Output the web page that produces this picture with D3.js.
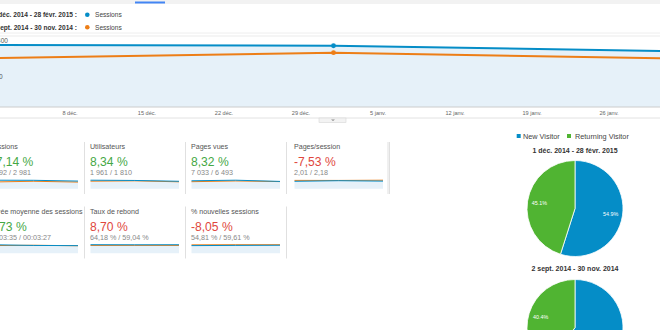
<!DOCTYPE html>
<html><head><meta charset="utf-8">
<script src="https://cdn.jsdelivr.net/npm/d3@7"></script>
<style>
body{margin:0;background:#fff;}
svg{display:block;font-family:Arial,"Liberation Sans",sans-serif;}
</style>
</head><body>
<svg id="c" width="660" height="330"></svg>
<script>
// ---------- data ----------
const dates = ["2014-12-01", "2015-01-01", "2015-02-01"];
const sessionsCurrent = [1225, 1208, 1100];
const sessionsPrevious = [964, 1071, 955];
const yTicks = [700, 1400];
const yTickLabels = ["700", "1 400"];
const legendLabels = ["1 déc. 2014 - 28 févr. 2015 :", "2 sept. 2014 - 30 nov. 2014 :"];
const seriesName = "Sessions";
const xTickDates = ["2014-12-08", "2014-12-15", "2014-12-22", "2014-12-29", "2015-01-05", "2015-01-12", "2015-01-19", "2015-01-26"];
const frMonths = ["janv.", "févr.", "mars", "avr.", "mai", "juin", "juil.", "août", "sept.", "oct.", "nov.", "déc."];

const metricTitles = ["Sessions", "Utilisateurs", "Pages vues", "Pages/session", "Durée moyenne des sessions", "Taux de rebond", "% nouvelles sessions"];
const metricChanges = ["17,14 %", "8,34 %", "8,32 %", "-7,53 %", "3,73 %", "8,70 %", "-8,05 %"];
const metricPositive = [true, true, true, false, true, false, false];
const metricCompare = ["3 492 / 2 981", "1 961 / 1 810", "7 033 / 6 493", "2,01 / 2,18", "00:03:35 / 00:03:27", "64,18 % / 59,04 %", "54,81 % / 59,61 %"];
const sparkCurrent = [
  [1225, 1208, 1100], [690, 668, 603], [2350, 2520, 2163], [1.92, 2.08, 1.97],
  [230, 210, 205], [64.5, 63.8, 64.2], [53.5, 55.0, 56.0]
];
const sparkPrevious = [
  [964, 1071, 955], [610, 640, 560], [2080, 2300, 2113], [2.16, 2.15, 2.21],
  [205, 215, 202], [58.8, 59.3, 59.0], [59.0, 59.8, 60.0]
];

const pieLabels = ["New Visitor", "Returning Visitor"];
const pieTitles = ["1 déc. 2014 - 28 févr. 2015", "2 sept. 2014 - 30 nov. 2014"];
const pieCurrent = [54.9, 45.1];
const piePrevious = [59.6, 40.4];

// ---------- styles ----------
const BLUE = "#058dc7", ORANGE = "#ed7e17", GREEN = "#50b432", FILL = "#e6f1f9";
const svg = d3.select("#c");
const parse = d3.utcParse("%Y-%m-%d");

// top bar
svg.append("rect").attr("x", 0).attr("y", 0).attr("width", 660).attr("height", 4).attr("fill", "#f2f2f2");
svg.append("rect").attr("x", 135).attr("y", 1.5).attr("width", 30).attr("height", 2).attr("fill", "#4285f4");

// legend
legendLabels.forEach((t, i) => {
  const y = 14.7 + i * 12.6;
  svg.append("text").attr("x", 77).attr("y", y + 2.3).attr("text-anchor", "end")
    .attr("font-size", 6.6).attr("font-weight", "bold").attr("fill", "#333").text(t);
  svg.append("circle").attr("cx", 87.3).attr("cy", y).attr("r", 2.3).attr("fill", i === 0 ? BLUE : ORANGE);
  svg.append("text").attr("x", 95).attr("y", y + 2.3).attr("font-size", 6.6).attr("fill", "#444").text(seriesName);
});
svg.append("line").attr("x1", 0).attr("x2", 660).attr("y1", 33).attr("y2", 33).attr("stroke", "#eee");

// main chart
const x = d3.scaleUtc().domain([parse(dates[0]), parse(dates[2])]).range([-7.5, 674.5]);
const y = d3.scaleLinear().domain([0, 1400]).range([107, 36]);
const pts = (vals) => vals.map((v, i) => ({d: parse(dates[i]), v}));

const g = svg.append("g");
g.selectAll("line.grid").data(yTicks).join("line").attr("class", "grid")
  .attr("x1", 0).attr("x2", 660).attr("y1", d => y(d)).attr("y2", d => y(d)).attr("stroke", "#ebebeb");
g.append("path").datum(pts(sessionsCurrent))
  .attr("d", d3.area().x(d => x(d.d)).y0(y(0)).y1(d => y(d.v))).attr("fill", FILL);
g.selectAll("text.yl").data(yTicks).join("text").attr("class", "yl")
  .attr("x", -8.3).attr("y", d => y(d) + 7.3).attr("font-size", 6.5).attr("fill", "#555")
  .text((d, i) => yTickLabels[i]);
g.append("line").attr("x1", 0).attr("x2", 660).attr("y1", 107).attr("y2", 107).attr("stroke", "#ccc");
[[sessionsPrevious, ORANGE], [sessionsCurrent, BLUE]].forEach(([vals, col]) => {
  g.append("path").datum(pts(vals)).attr("d", d3.line().x(d => x(d.d)).y(d => y(d.v)))
    .attr("fill", "none").attr("stroke", col).attr("stroke-width", 2);
  g.selectAll(null).data(pts(vals)).join("circle").attr("cx", d => x(d.d)).attr("cy", d => y(d.v))
    .attr("r", 2.4).attr("fill", col);
});
const xAxis = d3.axisBottom(x).tickValues(xTickDates.map(parse)).tickSize(0)
  .tickFormat(d => d.getUTCDate() + " " + frMonths[d.getUTCMonth()]);
const ax = g.append("g").attr("transform", "translate(0,107)").call(xAxis);
ax.select(".domain").remove();
ax.selectAll("text").attr("font-size", 5.6).attr("fill", "#666").attr("dy", 0).attr("y", 7.6)
  .attr("font-family", "Arial, 'Liberation Sans', sans-serif");
svg.append("line").attr("x1", 0).attr("x2", 660).attr("y1", 118).attr("y2", 118).attr("stroke", "#e2e2e2");
svg.append("rect").attr("x", 319).attr("y", 118).attr("width", 27).attr("height", 4.5).attr("fill", "#f3f3f3").attr("stroke", "#d6d6d6").attr("stroke-width", 0.6);
svg.append("path").attr("d", "M331,119.5 L335,119.5 L333,121 Z").attr("fill", "#888");

// scorecards
const colStart = [-17, 84, 185, 288];
metricTitles.forEach((title, i) => {
  const row = i < 4 ? 0 : 1;
  const col = i < 4 ? i : i - 4;
  const sx = colStart[col] + 6;
  const oy = row * 64.5;
  const cg = svg.append("g");
  cg.append("text").attr("x", sx).attr("y", 149.3 + oy).attr("font-size", 7.1).attr("fill", "#555").text(title);
  cg.append("text").attr("x", sx).attr("y", 166.2 + oy).attr("font-size", 12.1)
    .attr("fill", metricPositive[i] ? "#45a845" : "#e0473d").text(metricChanges[i]);
  cg.append("text").attr("x", sx).attr("y", 175.4 + oy).attr("font-size", 7.2).attr("fill", "#888").text(metricCompare[i]);
  // sparkline
  const top = 179.5 + oy, bot = 188.8 + oy;
  const mx = d3.max(sparkCurrent[i].concat(sparkPrevious[i]));
  const sxs = d3.scaleLinear().domain([0, 2]).range([sx + 0.5, sx + 89]);
  const sys = d3.scaleLinear().domain([0, mx * 1.08]).range([bot, top]);
  cg.append("path").datum(sparkCurrent[i])
    .attr("d", d3.area().x((d, k) => sxs(k)).y0(bot).y1(d => sys(d))).attr("fill", FILL);
  [[sparkPrevious[i], ORANGE], [sparkCurrent[i], BLUE]].forEach(([vals, c]) => {
    cg.append("path").datum(vals).attr("d", d3.line().x((d, k) => sxs(k)).y(d => sys(d)))
      .attr("fill", "none").attr("stroke", c).attr("stroke-width", 1);
  });
  // separator on the right
  const sepX = colStart[col] + 101.5;
  if (row === 0 || col < 3) {
    cg.append("line").attr("x1", sepX).attr("x2", sepX).attr("y1", 142 + oy).attr("y2", 194 + oy)
      .attr("stroke", "#e0e0e0");
  }
});
svg.append("line").attr("x1", 388).attr("x2", 388).attr("y1", 142).attr("y2", 194).attr("stroke", "#e0e0e0");

// pies
[[pieLabels[0], BLUE, 516.7, 523], [pieLabels[1], GREEN, 567, 575]].forEach(([t, c, bx, tx]) => {
  svg.append("rect").attr("x", bx).attr("y", 134).attr("width", 4).attr("height", 4).attr("fill", c);
  svg.append("text").attr("x", tx).attr("y", 138.6).attr("font-size", 7.3).attr("fill", "#444").text(t);
});
const pie = d3.pie().sort(null);
const R = 48;
[[pieCurrent, 208.5, pieTitles[0], 152.5], [piePrevious, 327.5, pieTitles[1], 270.8]].forEach(([vals, cy, title, ty]) => {
  svg.append("text").attr("x", 575).attr("y", ty).attr("text-anchor", "middle").attr("font-size", 7)
    .attr("font-weight", "bold").attr("fill", "#333").text(title);
  const pg = svg.append("g").attr("transform", `translate(575,${cy})`);
  const arcs = pie(vals);
  pg.selectAll("path").data(arcs).join("path").attr("d", d3.arc().innerRadius(0).outerRadius(R))
    .attr("fill", (d, k) => k === 0 ? BLUE : GREEN).attr("stroke", "#fff").attr("stroke-width", 0.8);
  const la = d3.arc().innerRadius(R * 0.75).outerRadius(R * 0.75);
  pg.selectAll("text").data(arcs).join("text").attr("transform", d => `translate(${la.centroid(d)})`)
    .attr("text-anchor", "middle").attr("dy", "0.35em").attr("font-size", 5.4).attr("fill", "#fff")
    .text(d => d.data.toFixed(1) + "%");
});
</script>
</body></html>
